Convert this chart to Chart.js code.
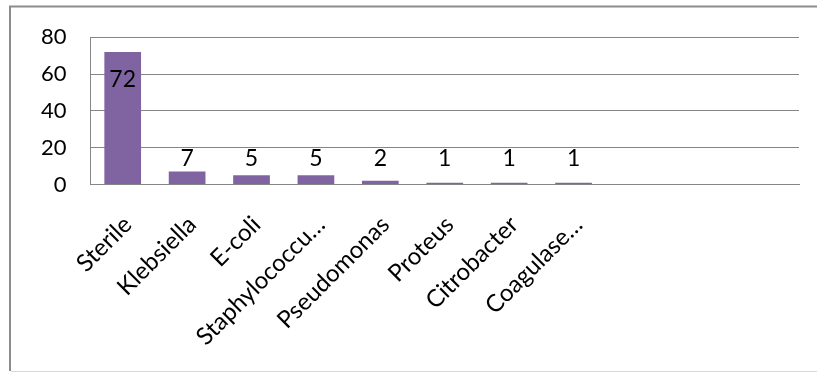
<!DOCTYPE html>
<html>
<head>
<meta charset="utf-8">
<script src="https://cdn.jsdelivr.net/npm/chart.js@4.4.1/dist/chart.umd.min.js"></script>
<style>
  html, body { margin: 0; padding: 0; background: #ffffff; }
  canvas { display: block; }
</style>
</head>
<body>
<canvas id="chart" width="817" height="372"></canvas>
<script>
// Culture results (count of samples per organism)
const categories = ['Sterile', 'Klebsiella', 'E-coli', 'Staphylococcu\u2026', 'Pseudomonas',
                    'Proteus', 'Citrobacter', 'Coagulase\u2026', '', '', ''];
const counts = [72, 7, 5, 5, 2, 1, 1, 1, null, null, null];
const yTicks = [0, 20, 40, 60, 80];

const FONT = 'Lato, "Open Sans", "DejaVu Sans", sans-serif';
const GRID = '#868686';
const BAR = '#8064A2';

// Frame around the whole chart
const framePlugin = {
  id: 'frame',
  beforeDraw(chart) {
    const ctx = chart.ctx;
    ctx.save();
    ctx.fillStyle = '#ffffff';
    ctx.fillRect(0, 0, chart.width, chart.height);
    ctx.strokeStyle = '#8c8c8c';
    ctx.lineWidth = 2;
    ctx.beginPath();
    ctx.moveTo(10, 371);
    ctx.lineTo(10, 6.5);
    ctx.lineTo(chart.width + 2, 6.5);
    ctx.stroke();
    ctx.strokeStyle = '#d9d9d9';
    ctx.lineWidth = 1;
    ctx.beginPath();
    ctx.moveTo(11, 371.5);
    ctx.lineTo(chart.width, 371.5);
    ctx.stroke();
    ctx.restore();
  }
};

// Value labels: above the bar, or inside its top when there is no room above
const valueLabels = {
  id: 'valueLabels',
  afterDatasetsDraw(chart) {
    const ctx = chart.ctx;
    const area = chart.chartArea;
    const meta = chart.getDatasetMeta(0);
    ctx.save();
    ctx.font = '23px ' + FONT;
    ctx.fillStyle = '#000000';
    ctx.textAlign = 'center';
    ctx.textBaseline = 'middle';
    meta.data.forEach((bar, i) => {
      const v = counts[i];
      if (v === null || v === undefined) return;
      const anchor = Math.min(bar.y, bar.base - 13);
      let y = anchor - 12;
      if (y - 9 < area.top) y = bar.y + 28;
      ctx.fillText(String(v), bar.x, y);
    });
    ctx.restore();
  }
};

new Chart(document.getElementById('chart'), {
  type: 'bar',
  data: {
    labels: categories,
    datasets: [{
      data: counts,
      backgroundColor: BAR,
      borderWidth: 0,
      barPercentage: 1,
      categoryPercentage: 0.57
    }]
  },
  options: {
    responsive: false,
    devicePixelRatio: 1,
    animation: false,
    layout: { padding: { top: 35, right: 18, left: 0, bottom: 0 } },
    plugins: {
      legend: { display: false },
      tooltip: { enabled: false }
    },
    scales: {
      x: {
        grid: { display: false, drawTicks: false },
        border: { display: true, color: GRID, width: 1 },
        ticks: {
          autoSkip: false,
          maxRotation: 45,
          minRotation: 45,
          padding: 26,
          labelOffset: 5,
          color: '#000000',
          font: { family: FONT, size: 24 }
        },
        afterFit(scale) { scale.height = 187.5; }
      },
      y: {
        min: 0,
        max: 80,
        afterBuildTicks(scale) { scale.ticks = yTicks.map(v => ({ value: v })); },
        grid: { color: GRID, lineWidth: 1, drawTicks: false },
        border: { display: true, color: GRID, width: 1 },
        ticks: {
          padding: 24,
          color: '#000000',
          font: { family: FONT, size: 22 }
        },
        afterFit(scale) { scale.width = 90.5; }
      }
    }
  },
  plugins: [framePlugin, valueLabels]
});
</script>
</body>
</html>
